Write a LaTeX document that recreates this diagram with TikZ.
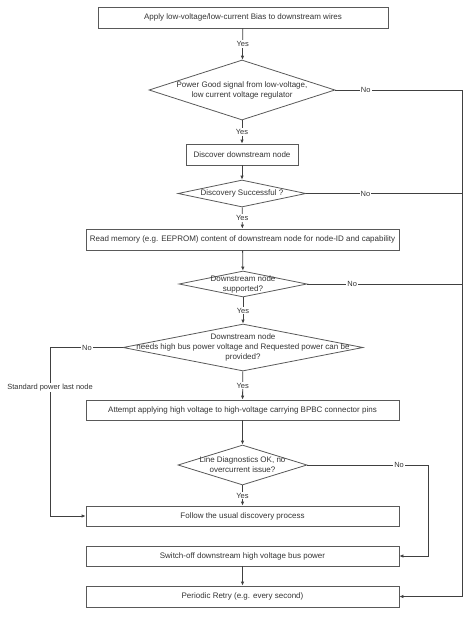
\documentclass[tikz,border=0pt]{standalone}
\usepackage{fontspec}
\setmainfont{Liberation Sans}
\usetikzlibrary{shapes.geometric,arrows.meta}

\tikzset{
  stepbox/.style={draw=black!65, line width=0.8pt, rectangle, inner sep=0pt, text=black!80},
  decision/.style={draw=black!65, line width=0.8pt, diamond, inner sep=0pt},
  dtext/.style={align=center, text=black!80, inner sep=0pt},
  flow/.style={draw=black!75, line width=0.8pt, -{Latex[length=4pt,width=3.5pt]}},
  rail/.style={draw=black!75, line width=0.8pt},
  lbl/.style={fill=white, inner sep=1pt, text=black!80, font=\fontsize{7.5}{9}\selectfont}
}

\begin{document}
\begin{tikzpicture}[x=1pt, y=-1pt, font=\fontsize{8}{10}\selectfont]
    \useasboundingbox (0,0) rectangle (474,619);

    % Steps
    \node[stepbox, minimum width=290, minimum height=21] (apply) at (243,17.5) {Apply low-voltage/low-current Bias to downstream wires};
    \node[stepbox, minimum width=112, minimum height=21] (disc) at (242,154.5) {Discover downstream node};
    \node[stepbox, minimum width=313, minimum height=21] (mem) at (242.5,239.5) {Read memory (e.g. EEPROM) content of downstream node for node-ID and capability};
    \node[stepbox, minimum width=313, minimum height=20] (att) at (242.5,410) {Attempt applying high voltage to high-voltage carrying BPBC connector pins};
    \node[stepbox, minimum width=313, minimum height=20] (follow) at (242.5,516) {Follow the usual discovery process};
    \node[stepbox, minimum width=313, minimum height=20] (off) at (242.5,556) {Switch-off downstream high voltage bus power};
    \node[stepbox, minimum width=313, minimum height=21] (retry) at (242.5,596.5) {Periodic Retry (e.g. every second)};

    % Decisions
    \node[decision, minimum width=186, minimum height=60] (pg) at (242,90) {};
    \node[dtext] (pgt) at (pg) {Power Good signal from low-voltage,\\low current voltage regulator};
    \node[decision, minimum width=128, minimum height=27] (ok) at (242,193.5) {};
    \node[dtext] (okt) at (ok) {Discovery Successful ?};
    \node[decision, minimum width=128, minimum height=26] (sup) at (243,284) {};
    \node[dtext] (supt) at (sup) {Downstream node\\supported?};
    \node[decision, minimum width=240, minimum height=47] (need) at (243,347.5) {};
    \node[dtext] (needt) at (need) {Downstream node\\needs high bus power voltage and Requested power can be\\provided?};
    \node[decision, minimum width=129, minimum height=40] (diag) at (242.5,465) {};
    \node[dtext] (diagt) at (diag) {Line Diagnostics OK, no\\overcurrent issue?};

    % Rails
    \coordinate (rrail) at (462,90);
    \coordinate (lrail) at (50,347.5);
    \coordinate (drail) at (428,465);

    % Yes path
    \draw[flow] (apply) -- node[lbl] {Yes} (pg);
    \draw[flow] (pg) -- node[lbl] {Yes} (disc);
    \draw[flow] (disc) -- (ok);
    \draw[flow] (ok) -- node[lbl] {Yes} (mem);
    \draw[flow] (mem) -- (sup);
    \draw[flow] (sup) -- node[lbl] {Yes} (need);
    \draw[flow] (need) -- node[lbl] {Yes} (att);
    \draw[flow] (att) -- (diag);
    \draw[flow] (diag) -- node[lbl] {Yes} (follow);
    \draw[flow] (off) -- (retry);

    % No paths
    \draw[flow] (pg.east) -- node[lbl, pos=.24] {No} (rrail) |- (retry.east);
    \draw[rail] (ok.east) -- node[lbl, pos=.38] {No} (ok.east -| rrail);
    \draw[rail] (sup.east) -- node[lbl, pos=.29] {No} (sup.east -| rrail);
    \draw[flow] (need.west) -- node[lbl, pos=.49] {No} (lrail) -- node[lbl, pos=.24] {Standard power last node} (lrail |- follow.west) -- (follow.west);
    \draw[flow] (diag.east) -- node[lbl, pos=.76] {No} (drail) |- (off.east);
\end{tikzpicture}
\end{document}
